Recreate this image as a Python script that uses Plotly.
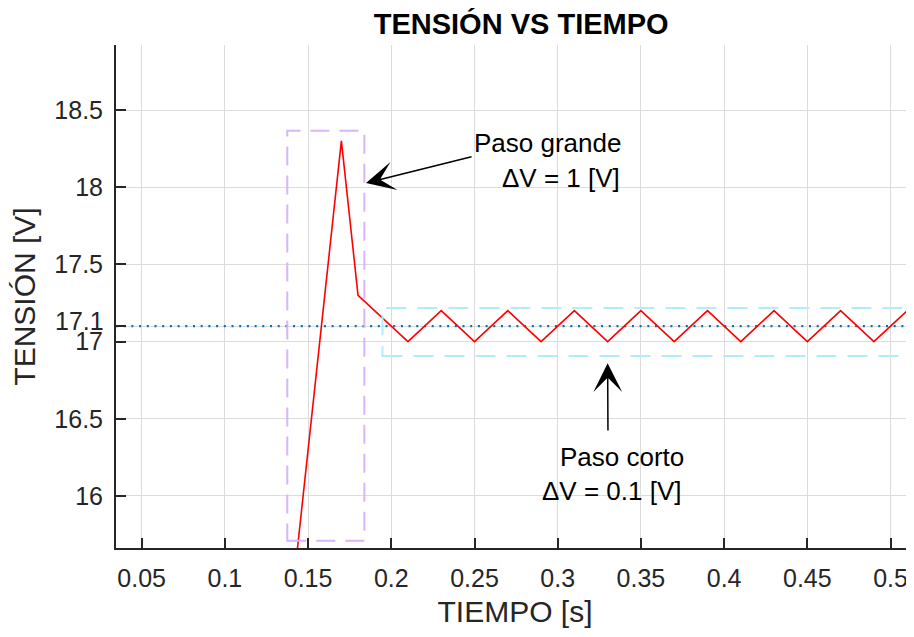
import plotly.graph_objects as go

# datos
tiempo = [0.13, 0.14, 0.15, 0.16, 0.17, 0.18, 0.19, 0.20, 0.21, 0.22,
          0.23, 0.24, 0.25, 0.26, 0.27, 0.28, 0.29, 0.30, 0.31, 0.32,
          0.33, 0.34, 0.35, 0.36, 0.37, 0.38, 0.39, 0.40, 0.41, 0.42,
          0.43, 0.44, 0.45, 0.46, 0.47, 0.48, 0.49, 0.50, 0.51, 0.52,
          0.53]
tension = [14.3, 15.3, 16.3, 17.3, 18.3, 17.3, 17.2, 17.1, 17.0, 17.1,
           17.2, 17.1, 17.0, 17.1, 17.2, 17.1, 17.0, 17.1, 17.2, 17.1,
           17.0, 17.1, 17.2, 17.1, 17.0, 17.1, 17.2, 17.1, 17.0, 17.1,
           17.2, 17.1, 17.0, 17.1, 17.2, 17.1, 17.0, 17.1, 17.2, 17.1,
           17.0]
v_ref = 17.1

x_ticks = [0.05, 0.1, 0.15, 0.2, 0.25, 0.3, 0.35, 0.4, 0.45, 0.5]
y_ticks = [16, 16.5, 17, 17.1, 17.5, 18, 18.5]
y_labels = ["16", "16.5", "17", "", "17.5", "18", "18.5"]

x_rango = [0.03456, 0.5141]
y_rango = [15.663, 18.921]

# cajas de los pasos
caja_grande = dict(x0=0.1375, x1=0.1838, y0=15.71, y1=18.366)
caja_corta = dict(x0=0.1947, x1=0.5135, y0=16.907, y1=17.217)

FONT = "Liberation Sans, Arial, sans-serif"
GRIS = "#262626"

fig = go.Figure()

fig.add_trace(go.Scatter(
    x=x_rango, y=[v_ref, v_ref],
    mode="lines",
    line=dict(color="#0072BD", width=2.2, dash="2px,5.7px"),
    showlegend=False, hoverinfo="skip"
))

fig.add_trace(go.Scatter(
    x=tiempo, y=tension,
    mode="lines",
    line=dict(color="#FF0000", width=1.6),
    showlegend=False
))

fig.add_shape(type="rect", xref="x", yref="y", **caja_grande,
              line=dict(color="#D8B4FA", width=2, dash="19px,10px"))
fig.add_shape(type="rect", xref="x", yref="y", **caja_corta,
              line=dict(color="#B3ECFB", width=2, dash="20px,11px"))

# flechas
fig.add_annotation(x=0.1848, y=18.027, ax=0.2491, ay=18.20,
                   xref="x", yref="y", axref="x", ayref="y",
                   text="", showarrow=True, arrowhead=3, arrowsize=3.2,
                   arrowwidth=1.5, arrowcolor="black", standoff=0)
fig.add_annotation(x=0.33, y=16.86, ax=0.3302, ay=16.414,
                   xref="x", yref="y", axref="x", ayref="y",
                   text="", showarrow=True, arrowhead=3, arrowsize=3.2,
                   arrowwidth=1.5, arrowcolor="black", standoff=0)

textos = [
    ("Paso grande", 0.3392, 18.286),
    ("\u0394V = 1 [V]", 0.3386, 18.059),
    ("Paso corto", 0.3771, 16.253),
    ("\u0394V = 0.1 [V]", 0.3759, 16.032),
]
for txt, xx, yy in textos:
    fig.add_annotation(x=xx, y=yy, xref="x", yref="y", text=txt,
                       showarrow=False, xanchor="right", yanchor="middle",
                       font=dict(family=FONT, size=26, color="black"))

# etiqueta 17.1 algo más arriba, como en el original
fig.add_annotation(x=0, y=v_ref + 0.035, xref="paper", yref="y",
                   text=str(v_ref), showarrow=False,
                   xanchor="right", yanchor="middle", xshift=-10,
                   font=dict(family=FONT, size=25, color=GRIS))

# la página añade 8 px de margen al cuerpo: se compensa en tamaño y márgenes
fig.update_layout(
    width=906, height=621,
    margin=dict(l=108, r=0, t=37, b=81),
    paper_bgcolor="white", plot_bgcolor="white",
    font=dict(family=FONT, color=GRIS),
    title=dict(text="<b>TENSIÓN VS TIEMPO</b>", x=0.5664, xanchor="center",
               y=0.974, yanchor="middle",
               font=dict(family=FONT, size=29, color="black")),
)

fig.update_xaxes(
    range=x_rango, tickvals=x_ticks, ticktext=[str(v) for v in x_ticks],
    showgrid=True, gridcolor="#DCDCDC", gridwidth=1,
    showline=True, linecolor=GRIS, linewidth=2,
    ticks="inside", ticklen=10, tickwidth=2, tickcolor=GRIS,
    tickfont=dict(size=25, color=GRIS), ticklabelstandoff=7,
    title=dict(text="TIEMPO [s]", font=dict(size=30, color=GRIS), standoff=10),
    zeroline=False, automargin=False,
)
fig.update_yaxes(
    range=y_rango, tickvals=y_ticks, ticktext=y_labels,
    showgrid=True, gridcolor="#DCDCDC", gridwidth=1,
    showline=True, linecolor=GRIS, linewidth=2,
    ticks="inside", ticklen=10, tickwidth=2, tickcolor=GRIS,
    tickfont=dict(size=25, color=GRIS), ticklabelstandoff=6,
    title=dict(text="TENSIÓN [V]", font=dict(size=30, color=GRIS), standoff=12),
    zeroline=False, automargin=False,
)

fig.write_html("out.html")
